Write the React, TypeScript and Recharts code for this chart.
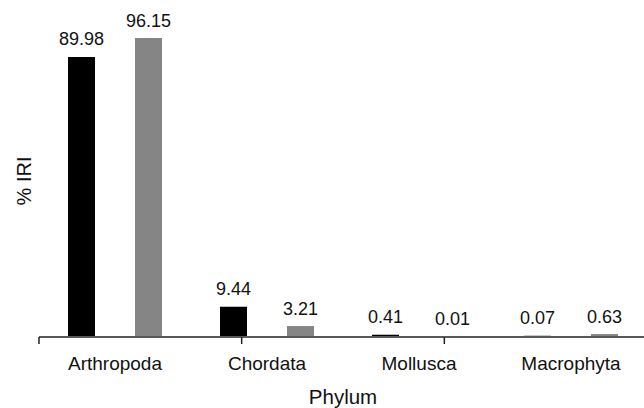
import React from 'react';
import { BarChart, Bar, XAxis, YAxis, LabelList, Label } from 'recharts';

const categories = ['Arthropoda', 'Chordata', 'Mollusca', 'Macrophyta'];
const seriesA = [89.98, 9.44, 0.41, 0.07];
const seriesB = [96.15, 3.21, 0.01, 0.63];
const boundaryTicks = [0, 1, 2, 3, 4];

const data = categories.map((name, i) => ({ name, a: seriesA[i], b: seriesB[i] }));

const FONT = '"Liberation Sans", Arial, Helvetica, sans-serif';

const YLabel = (props: any) => {
  const vb = props.viewBox || {};
  const cx = (vb.x || 0) + (vb.width || 0) / 2 + 4;
  const cy = (vb.y || 0) + (vb.height || 0) / 2;
  return (
    <text
      x={cx}
      y={cy}
      transform={`rotate(-90, ${cx}, ${cy})`}
      textAnchor="middle"
      dominantBaseline="central"
      fontSize={20}
      fontFamily={FONT}
      fill="#111"
    >
      % IRI
    </text>
  );
};

export default function App() {
  return (
    <div style={{ position: 'absolute', left: 0, top: 0, width: 644, height: 408, overflow: 'hidden', background: '#fff' }}>
      <BarChart
        width={660}
        height={408}
        data={data}
        margin={{ top: 26, right: 13, left: 0, bottom: 0 }}
        barSize={27}
        barGap={40}
      >
        <XAxis
          dataKey="name"
          height={1}
          axisLine={false}
          tickLine={false}
          tickSize={6}
          tickMargin={15}
          interval={0}
          tick={{ fontSize: 19, fontFamily: FONT, fill: '#111' }}
        />
        <XAxis
          xAxisId="grid"
          type="number"
          domain={[0, 4]}
          ticks={boundaryTicks}
          interval={0}
          tickFormatter={() => ''}
          height={71}
          axisLine={{ stroke: '#222', strokeWidth: 1.5 }}
          tickLine={{ stroke: '#222', strokeWidth: 1.5 }}
          tickSize={7}
          allowDataOverflow
        >
          <Label value="Phylum" position="insideBottom" offset={4} fontSize={20.5} fontFamily={FONT} fill="#111" />
        </XAxis>
        <YAxis
          width={39}
          domain={[0, 100]}
          axisLine={false}
          tickLine={false}
          tick={false}
          label={<YLabel />}
        />
        <Bar dataKey="a" fill="#000000" isAnimationActive={false}>
          <LabelList dataKey="a" position="top" offset={12} fontSize={18} fontFamily={FONT} fill="#111" />
        </Bar>
        <Bar dataKey="b" fill="#858585" isAnimationActive={false}>
          <LabelList dataKey="b" position="top" offset={11} fontSize={18} fontFamily={FONT} fill="#111" />
        </Bar>
      </BarChart>
    </div>
  );
}
